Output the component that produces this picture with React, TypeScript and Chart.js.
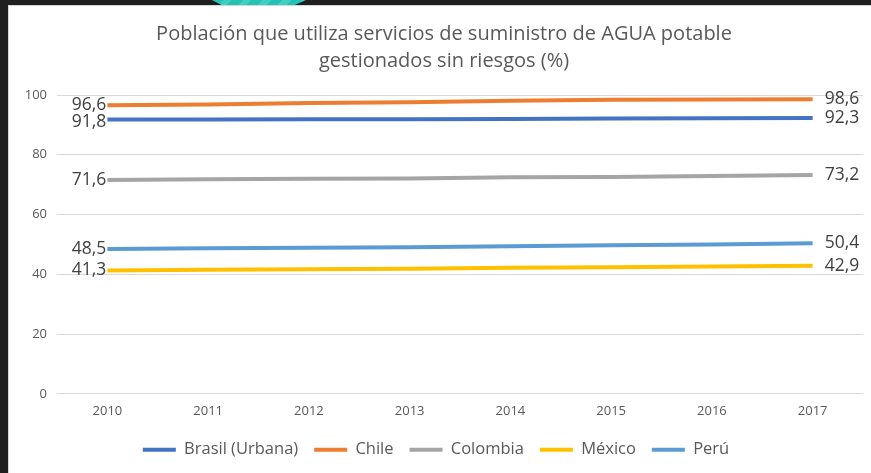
import React, { useEffect, useRef } from "react";
import { Chart, registerables } from "chart.js";

Chart.register(...registerables);

const years = ["2010", "2011", "2012", "2013", "2014", "2015", "2016", "2017"];
const titleLines = [
  "Población que utiliza servicios de suministro de AGUA potable",
  "gestionados sin riesgos (%)",
];
const seriesNames = ["Brasil (Urbana)", "Chile", "Colombia", "México", "Perú"];
const brasil = [91.8, 91.8, 91.9, 91.9, 92.0, 92.1, 92.2, 92.3];
const chile = [96.6, 96.8, 97.3, 97.6, 98.1, 98.4, 98.5, 98.6];
const colombia = [71.6, 71.8, 72.0, 72.1, 72.5, 72.6, 72.9, 73.2];
const mexico = [41.3, 41.5, 41.7, 41.9, 42.2, 42.4, 42.6, 42.9];
const peru = [48.5, 48.7, 48.9, 49.1, 49.4, 49.7, 50.0, 50.4];
const seriesColors = ["#4472C4", "#ED7D31", "#A5A5A5", "#FFC000", "#5B9BD5"];
const yTicks = [0, 20, 40, 60, 80, 100];

const FONT = "'Open Sans', 'Noto Sans', sans-serif";

const fmt = (v: number) => v.toFixed(1).replace(".", ",");

export default function App() {
  const ref = useRef<HTMLCanvasElement | null>(null);

  useEffect(() => {
    document.body.style.margin = "0";
    const canvas = ref.current;
    if (!canvas) return;
    const allSeries = [brasil, chile, colombia, mexico, peru];

    const titlePlugin = {
      id: "customTitle",
      afterDraw(chart: any) {
        const ctx = chart.ctx;
        ctx.save();
        ctx.fillStyle = "#595959";
        ctx.font = `20px ${FONT}`;
        ctx.textAlign = "center";
        ctx.textBaseline = "middle";
        const cx = chart.width / 2 + 4;
        ctx.fillText(titleLines[0], cx, 28);
        ctx.fillText(titleLines[1], cx, 55);
        ctx.restore();
      },
    };

    const labelPlugin = {
      id: "endLabels",
      afterDatasetsDraw(chart: any) {
        const ctx = chart.ctx;
        ctx.save();
        ctx.fillStyle = "#404040";
        ctx.font = `17.5px ${FONT}`;
        ctx.textBaseline = "middle";
        chart.data.datasets.forEach((ds: any, i: number) => {
          const meta = chart.getDatasetMeta(i);
          const pts = meta.data;
          const first = pts[0];
          const last = pts[pts.length - 1];
          const dyFirst = i === 0 ? 3 : 0;
          ctx.textAlign = "right";
          ctx.fillText(fmt(ds.data[0]), first.x - 1, first.y + dyFirst);
          ctx.textAlign = "left";
          ctx.fillText(fmt(ds.data[ds.data.length - 1]), last.x + 12, last.y);
        });
        ctx.restore();
      },
    };

    const chart = new Chart(canvas, {
      type: "line",
      data: {
        labels: years,
        datasets: seriesNames.map((name, i) => ({
          label: name,
          data: allSeries[i],
          borderColor: seriesColors[i],
          backgroundColor: seriesColors[i],
          borderWidth: 4,
          pointRadius: 0,
          tension: 0,
          fill: false,
        })),
      },
      options: {
        responsive: false,
        animation: false,
        layout: { padding: { top: 89, right: 8, left: 0, bottom: 5 } },
        plugins: {
          title: { display: false },
          tooltip: { enabled: false },
          legend: {
            position: "bottom",
            labels: {
              font: { family: FONT, size: 16.5 },
              color: "#595959",
              boxWidth: 33,
              boxHeight: 4,
              padding: 16,
              generateLabels: (chart: any) =>
                chart.data.datasets.map((ds: any, i: number) => ({
                  text: ds.label,
                  fillStyle: seriesColors[i],
                  strokeStyle: seriesColors[i],
                  lineWidth: 0,
                  datasetIndex: i,
                  fontColor: "#595959",
                })),
            },
          },
        },
        scales: {
          x: {
            offset: true,
            grid: { display: false, drawTicks: false },
            border: { display: false },
            afterFit: (scale: any) => {
              scale.height = scale.height - 4;
            },
            ticks: {
              font: { family: FONT, size: 13 },
              color: "#595959",
              padding: 10,
            },
          },
          y: {
            min: 0,
            max: 100,
            afterBuildTicks: (scale: any) => {
              scale.ticks = yTicks.map((v) => ({ value: v }));
            },
            afterFit: (scale: any) => {
              scale.width = 48;
            },
            grid: { color: "#D9D9D9", lineWidth: 1, drawTicks: false },
            border: { display: false },
            ticks: {
              font: { family: FONT, size: 13 },
              color: "#595959",
              padding: 10,
            },
          },
        },
      },
      plugins: [titlePlugin, labelPlugin],
    });
    return () => chart.destroy();
  }, []);

  return (
    <div style={{ position: "relative", width: 871, height: 473, background: "#1f1f1f", overflow: "hidden" }}>
      <div
        style={{
          position: "absolute",
          left: 212,
          top: 0,
          width: 94,
          height: 5,
          background: "repeating-linear-gradient(135deg, #22c3b4 0px, #22c3b4 8px, #3fd0c2 8px, #3fd0c2 14px)",
          clipPath: "polygon(0 0, 100% 0, 88% 100%, 10% 100%)",
        }}
      />
      <div
        style={{
          position: "absolute",
          left: 8,
          top: 5,
          width: 863,
          height: 468,
          background: "#ffffff",
          borderTop: "1px solid #d6d6d6",
          borderLeft: "1px solid #d6d6d6",
          boxSizing: "border-box",
        }}
      >
        <canvas ref={ref} width={862} height={467} style={{ display: "block" }} />
      </div>
    </div>
  );
}
